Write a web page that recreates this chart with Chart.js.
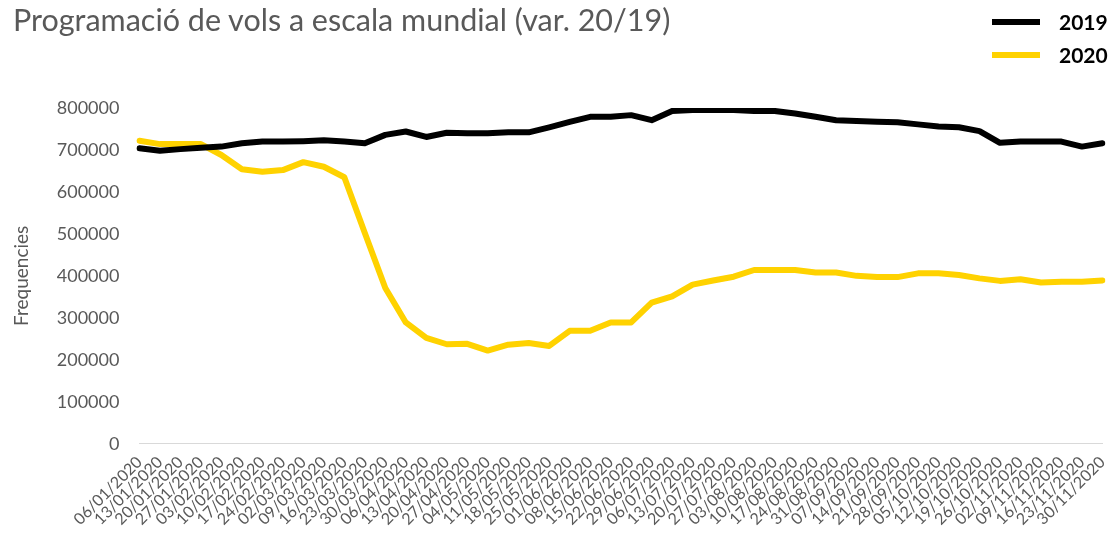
<!DOCTYPE html>
<html>
<head>
<meta charset="utf-8">
<script src="https://cdn.jsdelivr.net/npm/chart.js@4"></script>
<style>
    html, body { margin: 0; padding: 0; background: #fff; }
    #wrap { position: relative; width: 1117px; height: 535px; }
    #title {
        position: absolute; left: 13px; top: 1px;
        font: 30.5px Lato, sans-serif; color: #595959; white-space: nowrap;
    }
    #legend { position: absolute; left: 992px; top: 5px; }
    .item { display: flex; align-items: center; height: 33px; }
    .swatch { width: 48px; height: 6px; margin-right: 19px; }
    .item span { font: bold 21px Lato, sans-serif; color: #000; }
</style>
</head>
<body>
<div id="wrap">
    <canvas id="chart" width="1117" height="535"></canvas>
    <div id="title">Programació de vols a escala mundial (var. 20/19)</div>
    <div id="legend"></div>
</div>
<script>
// setmanes (dilluns) de 2020
const weeks = [
    '06/01/2020', '13/01/2020', '20/01/2020', '27/01/2020', '03/02/2020', '10/02/2020',
    '17/02/2020', '24/02/2020', '02/03/2020', '09/03/2020', '16/03/2020', '23/03/2020',
    '30/03/2020', '06/04/2020', '13/04/2020', '20/04/2020', '27/04/2020', '04/05/2020',
    '11/05/2020', '18/05/2020', '25/05/2020', '01/06/2020', '08/06/2020', '15/06/2020',
    '22/06/2020', '29/06/2020', '06/07/2020', '13/07/2020', '20/07/2020', '27/07/2020',
    '03/08/2020', '10/08/2020', '17/08/2020', '24/08/2020', '31/08/2020', '07/09/2020',
    '14/09/2020', '21/09/2020', '28/09/2020', '05/10/2020', '12/10/2020', '19/10/2020',
    '26/10/2020', '02/11/2020', '09/11/2020', '16/11/2020', '23/11/2020', '30/11/2020'
];

const vols2019 = [
    704000, 698000, 702000, 705000, 708000, 716000, 720000, 720000, 721000, 723000,
    720000, 716000, 736000, 744000, 731000, 741000, 740000, 740000, 742000, 742000,
    754000, 767000, 779000, 779000, 783000, 771000, 793000, 795000, 795000, 795000,
    793000, 793000, 787000, 779000, 771000, 769000, 767000, 766000, 761000, 756000,
    754000, 745000, 717000, 720000, 720000, 720000, 708000, 716000
];

const vols2020 = [
    722000, 714000, 714000, 714000, 688000, 654000, 648000, 652000, 671000, 660000,
    635000, 502000, 371000, 289000, 252000, 237000, 238000, 222000, 236000, 240000,
    233000, 269000, 269000, 289000, 289000, 336000, 351000, 379000, 389000, 398000,
    414000, 414000, 414000, 408000, 408000, 400000, 397000, 397000, 406000, 406000,
    402000, 394000, 388000, 392000, 384000, 386000, 386000, 389000
];

const yTicks = [0, 100000, 200000, 300000, 400000, 500000, 600000, 700000, 800000];

const series = [
    { label: '2019', data: vols2019, color: '#000000' },
    { label: '2020', data: vols2020, color: '#ffd200' }
];

const GRAY = '#595959';

// llegenda
const legend = document.getElementById('legend');
series.forEach(s => {
    const row = document.createElement('div');
    row.className = 'item';
    row.innerHTML = `<div class="swatch" style="background:${s.color}"></div><span>${s.label}</span>`;
    legend.appendChild(row);
});

new Chart(document.getElementById('chart'), {
    type: 'line',
    data: {
        labels: weeks,
        datasets: series.map(s => ({
            label: s.label,
            data: s.data,
            borderColor: s.color,
            backgroundColor: s.color,
            borderWidth: 6,
            pointRadius: 0,
            tension: 0,
            borderJoinStyle: 'round',
            borderCapStyle: 'round'
        }))
    },
    options: {
        responsive: false,
        animation: false,
        layout: { padding: { top: 108, right: 0, left: 10, bottom: 5 } },
        plugins: {
            legend: { display: false },
            title: { display: false },
            tooltip: { enabled: false }
        },
        scales: {
            x: {
                offset: false,
                grid: { display: false },
                border: { display: true, color: '#d9d9d9', width: 1 },
                ticks: {
                    color: GRAY,
                    font: { family: 'Lato', size: 16 },
                    autoSkip: false,
                    maxRotation: 45,
                    minRotation: 45,
                    padding: 1
                }
            },
            y: {
                min: 0,
                max: 800000,
                afterBuildTicks: axis => { axis.ticks = yTicks.map(v => ({ value: v })); },
                grid: { display: false },
                border: { display: false },
                ticks: {
                    color: GRAY,
                    font: { family: 'Lato', size: 18 },
                    padding: 12,
                    callback: v => String(v)
                },
                title: {
                    display: true,
                    text: 'Frequencies',
                    color: GRAY,
                    font: { family: 'Lato', size: 19 },
                    padding: { top: 0, bottom: 12 }
                }
            }
        }
    }
});
</script>
</body>
</html>
